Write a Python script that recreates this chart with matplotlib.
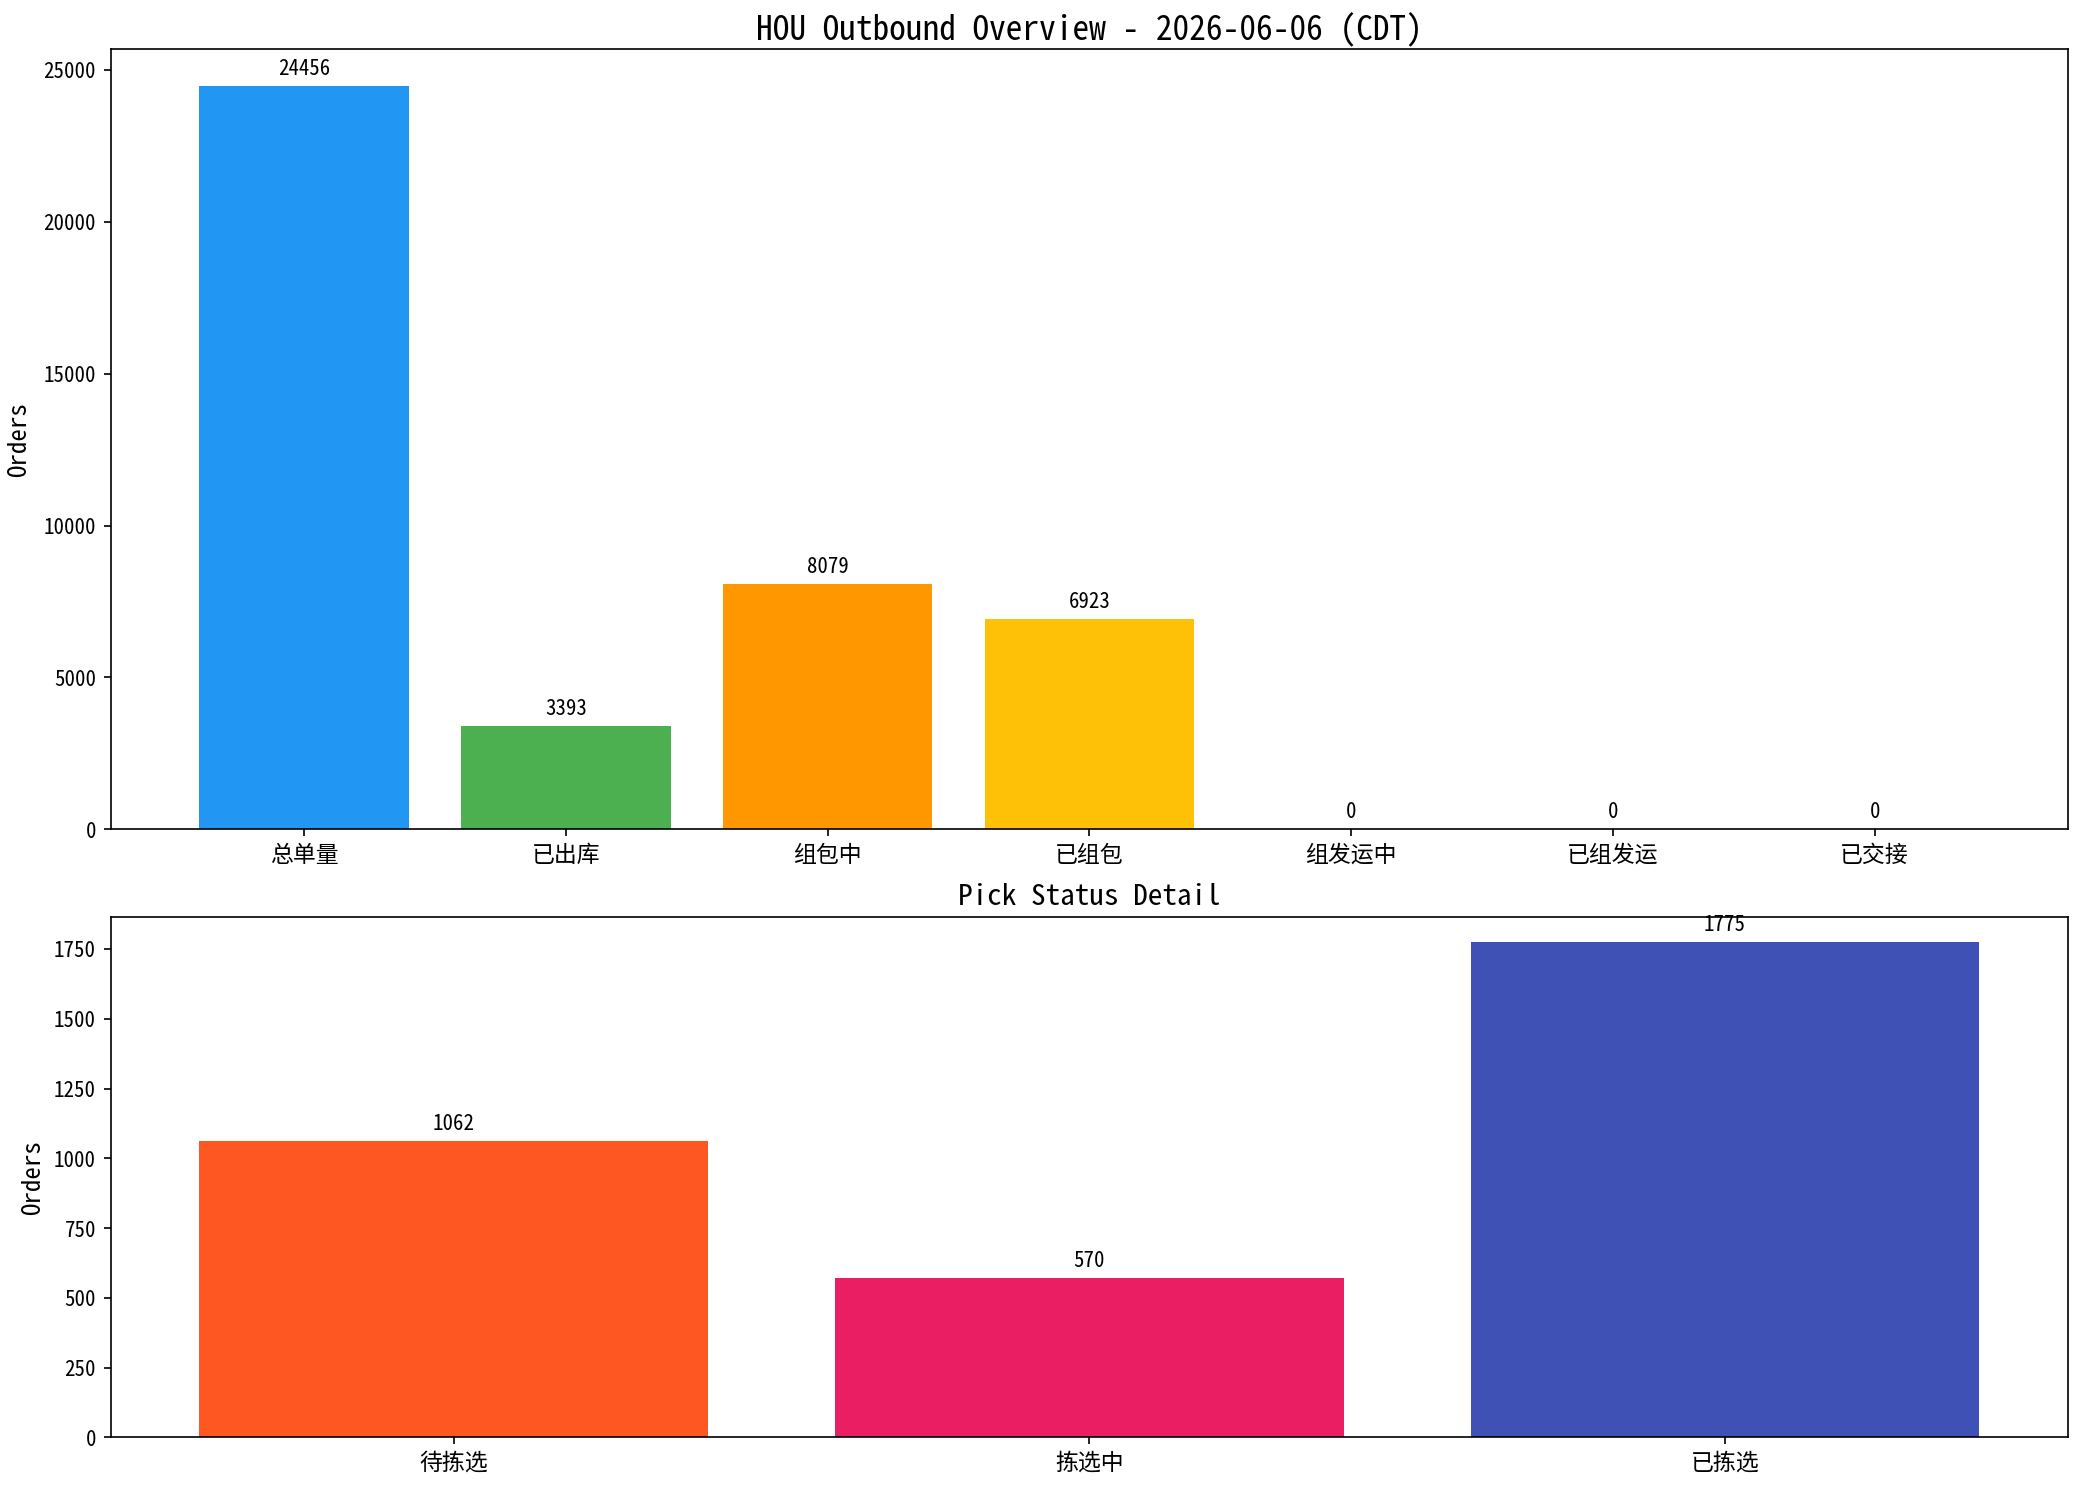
import matplotlib
matplotlib.use("Agg")
import matplotlib.pyplot as plt

plt.rcParams['font.family'] = ['Noto Sans Mono CJK SC', 'Noto Sans CJK SC', 'DejaVu Sans']
plt.rcParams['axes.unicode_minus'] = False

title_top = "HOU Outbound Overview - 2026-06-06 (CDT)"
title_bottom = "Pick Status Detail"

top_categories = ["总单量", "已出库", "组包中", "已组包", "组发运中", "已组发运", "已交接"]
top_values = [24456, 3393, 8079, 6923, 0, 0, 0]
top_colors = ["#2196F3", "#4CAF50", "#FF9800", "#FFC107", "#9E9E9E", "#9E9E9E", "#9E9E9E"]

pick_categories = ["待拣选", "拣选中", "已拣选"]
pick_values = [1062, 570, 1775]
pick_colors = ["#FF5722", "#E91E63", "#3F51B5"]

fig, (ax1, ax2) = plt.subplots(2, 1, figsize=(13.9, 9.9), dpi=150,
                               gridspec_kw={'height_ratios': [3, 2]})
fig.subplots_adjust(left=0.053, right=0.992, top=0.967, bottom=0.032, hspace=0.135)

bars1 = ax1.bar(top_categories, top_values, color=top_colors, width=0.8)
ax1.set_title(title_top, fontsize=16, pad=4)
ax1.set_ylabel("Orders", fontsize=12, labelpad=6)
for b, v in zip(bars1, top_values):
    ax1.annotate(f"{v}", (b.get_x() + b.get_width() / 2, b.get_height()),
                 xytext=(0, 3), textcoords='offset points',
                 ha='center', va='bottom', fontsize=10)
ax1.tick_params(axis='x', labelsize=11)
ax1.tick_params(axis='y', labelsize=10)

bars2 = ax2.bar(pick_categories, pick_values, color=pick_colors, width=0.8)
ax2.set_title(title_bottom, fontsize=14)
ax2.set_ylabel("Orders", fontsize=12)
for b, v in zip(bars2, pick_values):
    ax2.annotate(f"{v}", (b.get_x() + b.get_width() / 2, b.get_height()),
                 xytext=(0, 3), textcoords='offset points',
                 ha='center', va='bottom', fontsize=10)
ax2.tick_params(axis='x', labelsize=11)
ax2.tick_params(axis='y', labelsize=10)

fig.savefig("out.png", dpi=150)
